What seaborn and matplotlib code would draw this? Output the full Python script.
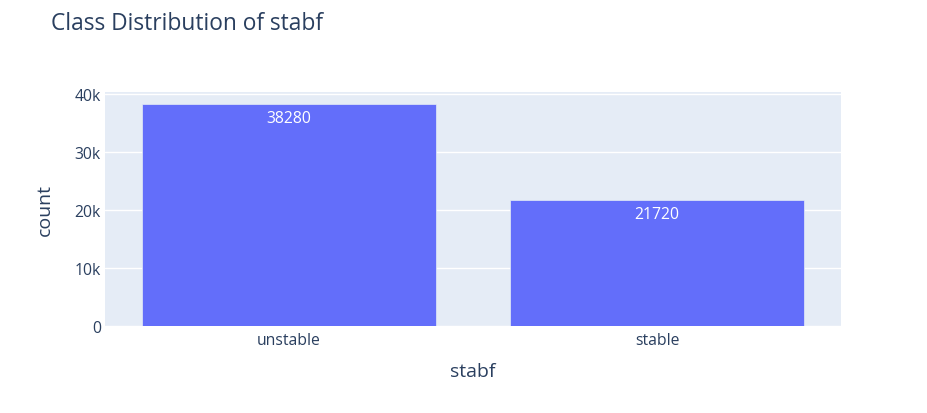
import matplotlib
matplotlib.use("Agg")
import matplotlib.pyplot as plt
import seaborn as sns
import pandas as pd

categories = ["unstable", "stable"]
counts = [38280, 21720]
yticks = [0, 10000, 20000, 30000, 40000]
ytick_labels = ["0", "10k", "20k", "30k", "40k"]

df = pd.DataFrame({"stabf": categories, "count": counts})

sns.set_theme(style="darkgrid")
plt.rcParams['font.family'] = ['Open Sans', 'DejaVu Sans']

fig = plt.figure(figsize=(9.27, 4.14), dpi=100)
L, R, B, T = 105, 841, 327, 93
ax = fig.add_axes([L/927, 1-B/414, (R-L)/927, (B-T)/414])
ax.set_facecolor("#e5ecf6")

sns.barplot(data=df, x="stabf", y="count", color="#636efa", saturation=1,
            width=0.8, ax=ax, edgecolor="#e5ecf6", linewidth=0.5)

ax.set_ylim(0, max(counts) * 1.0526)
ax.set_xlim(-0.5, len(categories) - 0.5)
ax.set_yticks(yticks)
ax.set_yticklabels(ytick_labels)
ax.grid(axis="y", color="white", linewidth=1)
ax.grid(axis="x", visible=False)
for s in ax.spines.values():
    s.set_visible(False)
ax.tick_params(axis="both", length=0, labelsize=11.3, labelcolor="#2a3f5f")
ax.tick_params(axis="y", pad=3)
ax.tick_params(axis="x", pad=4)

for i, v in enumerate(counts):
    ax.annotate(str(v), (i, v), xytext=(0, -10.5), textcoords="offset points",
                ha="center", va="center", color="white", fontsize=11.3)

ax.set_xlabel("stabf", fontsize=14, color="#2a3f5f")
ax.set_ylabel("count", fontsize=14, color="#2a3f5f")
ax.xaxis.set_label_coords(0.5, (B-372)/(B-T))
ax.yaxis.set_label_coords((45-L)/(R-L), 0.5)
ax.xaxis.label.set_va("center")
ax.yaxis.label.set_va("center")

fig.text(51/927, 1-24/414, "Class Distribution of stabf", fontsize=16.4,
         color="#2a3f5f", ha="left", va="center")

fig.savefig("out.png", dpi=100, facecolor="white")
